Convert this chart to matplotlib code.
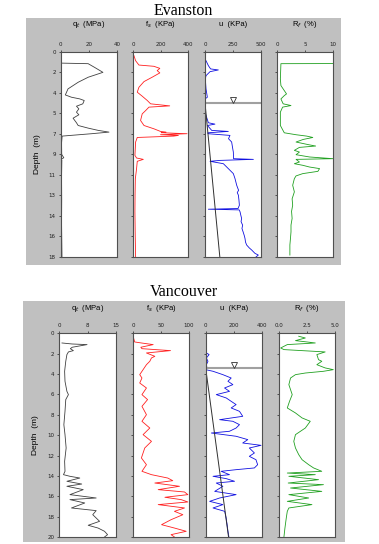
import numpy as np
import matplotlib
matplotlib.use("Agg")
import matplotlib.pyplot as plt
from matplotlib.patches import Rectangle

# ---------------- Evanston ----------------
qt_e_depth = [1.0, 1.05, 1.37, 1.81, 2.24, 2.68, 3.26, 3.79, 3.99, 4.14, 4.28, 4.57, 4.78, 5.01,
              5.30, 5.53, 5.83, 6.23, 6.47, 6.70, 6.90, 7.05, 7.19, 7.40, 8.0, 9.0, 9.3, 9.4,
              9.5, 11.0, 13.0, 15.0, 17.0, 18.0]
qt_e = [0, 19.5, 24, 30, 19.5, 12.4, 5.2, 3.3, 7.6, 13.6, 16.7, 15.7, 11.2, 12.9,
        11.2, 12.9, 8.8, 11.2, 12.4, 19.5, 26.7, 34.3, 22, 1.0, 0.6, 0.7, 2.2, 0.5,
        0.8, 0.6, 0.7, 0.6, 0.8, 0.9]

fs_e_depth = [0.35, 0.79, 1.17, 1.28, 1.46, 1.66, 1.86, 2.24, 2.62, 3.12, 3.55, 3.90, 4.28, 4.57,
              4.75, 4.86, 5.16, 5.45, 6.03, 6.47, 6.76, 6.99, 7.05, 7.10, 7.15, 7.19, 7.28,
              7.34, 7.40, 7.52, 7.92, 9.09, 9.32, 9.44, 9.61, 10.25, 11.13, 12.5, 14.04, 16.0, 18.0]
fs_e = [7, 19, 43, 152, 195, 176, 195, 139, 80, 43, 31, 67, 104, 128,
        267, 116, 92, 67, 55, 80, 152, 200, 240, 205, 300, 393, 200,
        330, 296, 31, 19, 14, 26, 75, 31, 26, 17, 15, 14, 16, 19]

u_e_depth = [0.79, 1.22, 1.51, 1.60, 1.75, 2.10, 2.39, 3.26, 3.99, 4.14, 5.30, 6.23, 6.35, 6.47,
             6.90, 6.99, 7.11, 7.19, 7.34, 7.63, 7.92, 8.35, 8.80, 9.38, 9.44, 9.53, 9.61, 9.82,
             10.25, 10.69, 11.13, 11.40, 11.71, 11.95, 12.15, 12.35, 12.58, 13.0, 13.46, 13.75,
             13.81, 13.87, 14.04, 14.35, 14.62, 14.90, 15.21, 15.50, 15.79, 16.10, 16.37, 16.70,
             16.95, 17.20, 17.39, 17.68, 17.83, 18.0]
u_e = [9, 30, 50, 119, 45, 9, 3, 9, 21, 0, 0, 30, 89, 22,
       60, 208, 25, 28, 223, 210, 238, 245, 253, 255, 432, 134, 45, 164,
       208, 253, 268, 275, 283, 292, 300, 288, 298, 303, 307, 295,
       30, 305, 313, 320, 327, 322, 336, 330, 340, 350, 357, 362,
       372, 395, 417, 446, 476, 455]

rf_e_depth = [1.04, 1.05, 2.39, 2.97, 3.41, 3.70, 3.85, 4.14, 4.57, 4.72, 4.86, 5.30, 6.47, 7.11,
              7.28, 7.40, 7.52, 7.69, 7.92, 8.16, 8.27, 8.39, 8.65, 8.80, 9.03, 9.23, 9.38,
              9.44, 9.67, 9.82, 9.96, 10.11, 10.25, 10.49, 10.69, 10.89, 11.13, 11.71, 12.29,
              12.9, 13.46, 14.0, 14.62, 15.2, 15.79, 16.4, 16.95, 17.83]
rf_e = [10, 0.7, 0.6, 0.7, 1.3, 1.7, 1.3, 0.7, 1.1, 2.5, 1.0, 0.6, 0.6, 1.3,
        3.4, 5.3, 6.4, 4.7, 3.4, 5.7, 6.9, 4.0, 3.1, 4.0, 3.4, 5.8, 10,
        3.4, 4.0, 3.1, 4.6, 5.8, 7.6, 7.3, 4.6, 3.4, 3.1, 2.8, 3.1,
        2.7, 2.8, 2.6, 2.7, 2.5, 2.5, 2.4, 2.3, 2.3]

# ---------------- Vancouver ----------------
qt_v_depth = [0.95, 1.05, 1.11, 1.37, 1.51, 1.70, 1.83, 2.09, 2.75, 3.73, 4.71, 5.70, 6.02, 6.51,
              7.66, 8.97, 9.95, 11.26, 12.57, 13.55, 13.88, 14.04, 14.21, 14.53, 14.80, 15.02,
              15.35, 15.84, 16.17, 16.33, 16.66, 17.15, 17.41, 17.81, 18.46, 18.85, 19.12,
              19.44, 19.77, 20.0]
qt_v = [0.7, 3.4, 7.3, 3.4, 2.9, 3.7, 2.4, 2.0, 1.7, 1.4, 1.5, 2.0, 2.4, 1.7,
        1.5, 1.2, 1.5, 1.8, 1.4, 1.5, 1.1, 2.8, 5.4, 2.0, 5.9, 2.0,
        6.3, 2.8, 9.7, 2.8, 6.7, 3.2, 9.7, 8.8, 10.6, 7.6, 10.2,
        11.9, 12.7, 11.9]

fs_v_depth = [0.46, 0.85, 0.95, 1.11, 1.37, 1.51, 1.70, 1.93, 2.26, 2.42, 2.75, 3.08, 3.57, 4.06,
              4.39, 4.88, 5.37, 6.02, 6.51, 7.17, 7.99, 8.64, 9.30, 9.95, 10.61, 11.26, 12.24,
              12.90, 13.55, 13.88, 14.21, 14.47, 14.70, 15.02, 15.35, 15.58, 15.84, 16.10,
              16.33, 16.56, 16.82, 17.15, 17.48, 17.81, 18.30, 18.79, 19.12, 19.44, 19.77, 20.0]
fs_v = [1, 3, 15, 36, 14, 16, 67, 24, 39, 33, 30, 24, 18, 12,
        16, 12, 24, 16, 26, 16, 24, 16, 30, 18, 33, 21, 15,
        24, 16, 33, 62, 71, 39, 83, 45, 92, 98, 57,
        86, 98, 45, 92, 74, 89, 68, 51, 74, 95, 68, 74]

u_v_depth = [1.93, 2.09, 2.42, 2.75, 3.08, 3.40, 3.57, 3.73, 4.06, 4.39, 4.71, 5.04, 5.37, 5.70,
             6.02, 6.35, 6.68, 7.00, 7.33, 7.66, 8.15, 8.48, 8.64, 8.97, 9.30, 9.62, 9.79,
             10.11, 10.44, 10.77, 11.00, 11.26, 11.75, 12.08, 12.41, 12.90, 13.22, 13.39,
             13.55, 13.88, 14.04, 14.27, 14.53, 14.70, 15.02, 15.52, 15.84, 16.17, 16.50,
             16.82, 17.15, 17.48, 18.13, 18.79, 19.44, 20.0]
u_v = [5, 24, 5, 16, 5, 9, 0, 52, 122, 181, 158, 193, 134, 169,
       75, 146, 181, 216, 181, 240, 263, 99, 193, 240, 216, 169, 40,
       216, 299, 263, 393, 310, 346, 310, 357, 369, 346, 216,
       110, 169, 52, 146, 205, 75, 122, 64, 216, 99, 28,
       122, 52, 135, 145, 152, 158, 165]

rf_v_depth = [0.29, 0.46, 0.72, 0.85, 0.95, 1.11, 1.44, 1.60, 1.83, 2.09, 2.59, 2.75, 3.08, 3.40,
              3.57, 3.73, 3.90, 4.06, 4.39, 5.04, 6.02, 6.68, 7.33, 7.82, 8.31, 8.64, 9.30,
              9.95, 10.61, 11.26, 11.91, 12.41, 12.90, 13.22, 13.55, 13.72, 13.88, 14.04,
              14.37, 14.70, 14.86, 15.19, 15.52, 15.84, 16.17, 16.50, 16.82, 17.15, 17.48,
              18.13, 19.12, 20.0]
rf_v = [1.76, 2.35, 1.47, 2.5, 3.24, 0.74, 0.15, 0.44, 4.12, 3.38, 3.53, 3.82, 3.38, 4.12,
        4.85, 3.97, 2.35, 1.47, 1.03, 0.88, 1.18, 0.94, 0.74, 1.47, 2.06, 2.79, 2.35,
        1.47, 1.32, 1.47, 1.76, 2.06, 2.65, 3.09, 3.82, 0.74, 3.24, 0.88,
        3.53, 0.82, 3.97, 1.03, 3.82, 0.88, 2.65, 0.74, 2.94, 0.88, 0.74,
        0.65, 0.53, 0.44]

col_titles = ["q$_t$  (MPa)", "f$_s$  (KPa)", "u  (KPa)", "R$_f$  (%)"]
colors = ["#404040", "#ff2020", "#1010e0", "#20a020"]

W, H = 379, 544
fig = plt.figure(figsize=(W / 100, H / 100), dpi=100)
fig.patch.set_facecolor("white")


def px_axes(x0, x1, y0, y1):
    # pixel box (from top-left) -> figure fraction
    return fig.add_axes([x0 / W, 1 - y1 / H, (x1 - x0) / W, (y1 - y0) / H])


def draw_site(name, title_y, gray_box, ax_y, ax_xs, series, xlims, xticks, xticklabels,
              dmax, yticks, yticklabels, wt_depth, wt_marker_x):
    gx0, gx1, gy0, gy1 = gray_box
    fig.patches.append(Rectangle((gx0 / W, 1 - gy1 / H), (gx1 - gx0) / W, (gy1 - gy0) / H,
                                 transform=fig.transFigure, facecolor="#c0c0c0",
                                 edgecolor="none", zorder=-5))
    fig.text((gx0 + gx1) / 2 / W, 1 - title_y / H, name, ha="center", va="center",
             fontsize=11.5, family="Liberation Serif")

    for i, (x0, x1) in enumerate(ax_xs):
        ax = px_axes(x0, x1, ax_y[0], ax_y[1])
        ax.set_zorder(2)
        depth, vals = series[i]
        ax.plot(vals, depth, color=colors[i], lw=0.6)
        ax.set_xlim(*xlims[i])
        ax.set_ylim(dmax, 0)
        ax.xaxis.tick_top()
        ax.set_xticks(xticks[i])
        ax.set_xticklabels(xticklabels[i])
        ax.set_yticks(yticks)
        if i == 0:
            ax.set_yticklabels(yticklabels)
            ax.set_ylabel("Depth  (m)", fontsize=6, family="Liberation Sans", labelpad=6)
        else:
            ax.set_yticklabels([])
            ax.tick_params(axis="y", length=0)
        ax.tick_params(labelsize=4, length=1.5, width=0.5, pad=2, colors="#202020")
        for sp in ax.spines.values():
            sp.set_color("#505050")
            sp.set_linewidth(0.8)
        fig.text((x0 + x1) / 2 / W, 1 - (gy0 + 7) / H, col_titles[i], ha="center",
                 va="center", fontsize=5.5, family="Liberation Sans")
        if i == 2:
            # water table and hydrostatic pressure
            ax.axhline(wt_depth, color="#a0a0a0", lw=1.5)
            ax.plot([0, 9.81 * (dmax - wt_depth)], [wt_depth, dmax], color="#303030", lw=0.7)
            ax.plot([wt_marker_x], [wt_depth - 0.3], marker="v", ms=4.5, mfc="white",
                    mec="#303030", mew=0.6)


draw_site("Evanston", 11, (26, 341, 18, 265), (51.7, 257),
          [(60.7, 117), (133, 188), (205, 261), (277, 333)],
          [(qt_e_depth, qt_e), (fs_e_depth, fs_e), (u_e_depth, u_e), (rf_e_depth, rf_e)],
          [(0, 40), (0, 400), (0, 500), (0, 10)],
          [[0, 20, 40], [0, 200, 400], [0, 250, 500], [0, 5, 10]],
          [["0", "20", "40"], ["0", "200", "400"], ["0", "250", "500"], ["0", "5", "10"]],
          18, np.linspace(0, 18, 11), ["0", "2", "4", "5", "7", "9", "11", "13", "14", "16", "18"],
          4.5, 247)

draw_site("Vancouver", 292, (23, 345, 301, 542), (333.3, 537),
          [(59.3, 116.3), (133, 189), (205.7, 262), (279, 335)],
          [(qt_v_depth, qt_v), (fs_v_depth, fs_v), (u_v_depth, u_v), (rf_v_depth, rf_v)],
          [(0, 15), (0, 100), (0, 400), (0, 5)],
          [[0, 7.5, 15], [0, 50, 100], [0, 200, 400], [0, 2.5, 5]],
          [["0", "8", "15"], ["0", "50", "100"], ["0", "200", "400"], ["0.0", "2.5", "5.0"]],
          20, np.arange(0, 21, 2), [str(v) for v in range(0, 21, 2)],
          3.45, 200)

fig.savefig("out.png", dpi=100)
